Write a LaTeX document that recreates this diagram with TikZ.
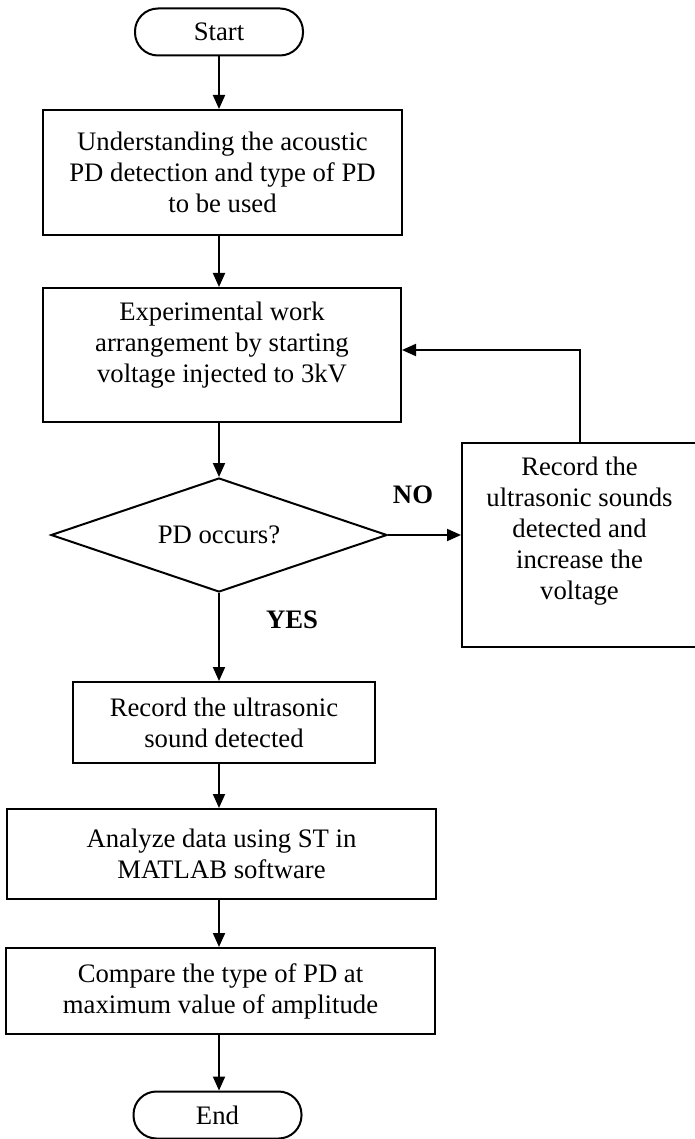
\documentclass[tikz,border=0pt]{standalone}
\usepackage{fontspec}
\setmainfont{Liberation Serif}
\usetikzlibrary{arrows.meta,shapes.geometric}
\begin{document}
\begin{tikzpicture}[x=1pt,y=-1pt,
  every node/.style={font=\fontsize{26.7pt}{31pt}\selectfont, text=black},
  proc/.style={draw, line width=2pt, rectangle, align=center, inner sep=0pt},
  term/.style={draw, line width=2pt, rectangle, rounded corners=23pt, inner sep=0pt, minimum width=168pt, minimum height=47pt},
  decision/.style={draw, line width=2pt, diamond, aspect=2.95, inner sep=0pt, minimum width=336pt, minimum height=114pt},
  arr/.style={line width=2pt, -{Triangle[length=14pt,width=12pt]}},
  lab/.style={font=\fontsize{26.7pt}{31pt}\selectfont\bfseries},
]
\useasboundingbox (0,0) rectangle (694,1139);

\node[term] (start) at (219,32) {Start};
\node[proc, minimum width=359pt, minimum height=125pt] (b1) at (222.5,172.5)
  {Understanding the acoustic\\PD detection and type of PD\\to be used};
\node[proc, minimum width=358pt, minimum height=134pt,
  label={[align=center, yshift=10pt]center:{Experimental work\\arrangement by starting\\voltage injected to 3kV}}] (b2) at (222,355) {};
\node[decision] (d) at (219,535) {PD occurs?};
\node[proc, minimum width=235pt, minimum height=204pt,
  label={[align=center, yshift=14pt]center:{Record the\\ultrasonic sounds\\detected and\\increase the\\voltage}}] (rb) at (579.5,545) {};
\node[proc, minimum width=302pt, minimum height=81pt] (b3) at (224,722.5)
  {Record the ultrasonic\\sound detected};
\node[proc, minimum width=429pt, minimum height=90pt] (b4) at (221.5,854)
  {Analyze data using ST in\\MATLAB software};
\node[proc, minimum width=429pt, minimum height=86pt] (b5) at (220.5,991)
  {Compare the type of PD at\\maximum value of amplitude};
\node[term] (stop) at (217.5,1115) {End};

\node[lab] (no) at (413,495) {NO};
\node[lab] (yes) at (292,620) {YES};

\draw[arr] (start.south) -- (start.south |- b1.north);
\draw[arr] (b1.south -| start.south) -- (start.south |- b2.north);
\draw[arr] (b2.south -| d.north) -- (d.north);
\draw[arr] (d.south) -- (d.south |- b3.north);
\draw[arr] (b3.south -| d.south) -- (d.south |- b4.north);
\draw[arr] (b4.south -| d.south) -- (d.south |- b5.north);
\draw[arr] (b5.south -| d.south) -- (d.south |- stop.north);
\draw[arr] (d.east) -- (d.east -| rb.west);
\draw[arr] (rb.north) |- ([yshift=5pt]b2.east);
\end{tikzpicture}
\end{document}
